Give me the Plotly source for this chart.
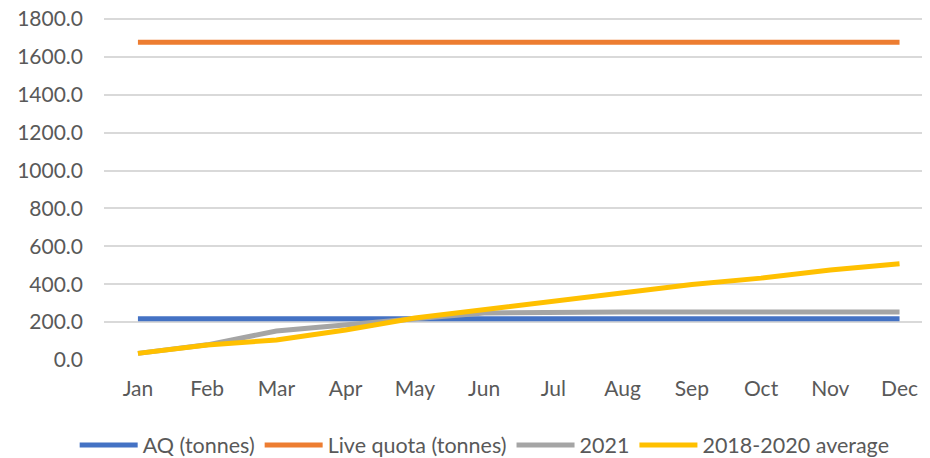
import plotly.graph_objects as go

months = ["Jan", "Feb", "Mar", "Apr", "May", "Jun",
          "Jul", "Aug", "Sep", "Oct", "Nov", "Dec"]

aq_tonnes = [218] * 12
live_quota = [1677] * 12
y2021 = [35, 80, 153, 188, 218, 248, 253, 253, 253, 253, 253, 253]
avg_2018_2020 = [35, 79, 106, 158, 222, 266, 308, 352, 398, 432, 475, 508]

series = [
    ("AQ (tonnes)", aq_tonnes, "#4472C4"),
    ("Live quota (tonnes)", live_quota, "#ED7D31"),
    ("2021", y2021, "#A5A5A5"),
    ("2018-2020 average", avg_2018_2020, "#FFC000"),
]

font_name = "Lato"
text_color = "#595959"

fig = go.Figure()
for name, vals, color in series:
    fig.add_trace(go.Scatter(x=months, y=vals, name=name, mode="lines",
                             line=dict(color=color, width=5)))

# page body has an 8px margin, so the figure is a bit smaller than the window
fig.update_layout(
    width=922, height=450,
    margin=dict(l=96, r=0, t=9, b=98, autoexpand=False),
    plot_bgcolor="white", paper_bgcolor="white",
    font=dict(family=font_name, size=21, color=text_color),
    legend=dict(orientation="h", xref="container", yref="container",
                x=0.517, xanchor="center", y=0.029, yanchor="middle",
                font=dict(size=21.5, color=text_color),
                itemwidth=58, tracegroupgap=0),
)
fig.update_xaxes(range=[-0.49, 11.44], showgrid=False, showline=False,
                 ticks="", ticklabelstandoff=14, tickfont=dict(size=21),
                 automargin=False)
fig.update_yaxes(range=[0, 1810], dtick=200, tickformat=".1f",
                 gridcolor="#D9D9D9", gridwidth=1.5, zeroline=False,
                 showline=False, ticks="", ticklabelstandoff=20,
                 tickfont=dict(size=21), automargin=False,
                 ticklabeloverflow="allow")

fig.write_html("out.html")
